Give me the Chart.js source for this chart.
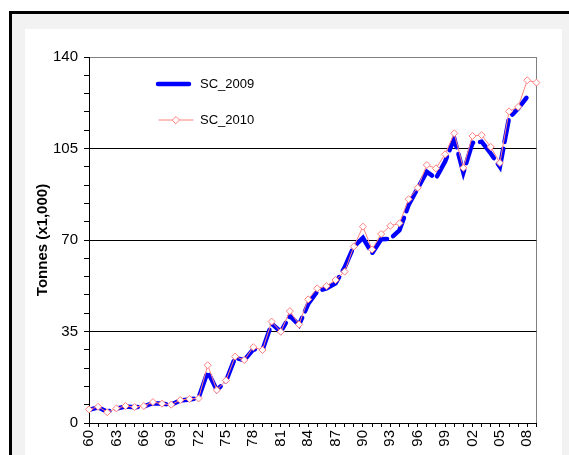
<!DOCTYPE html>
<html lang="en">
  <head>
    <meta charset="UTF-8" />
    <title>SC_2009 / SC_2010</title>
    <style>
      html,
      body {
        margin: 0;
        padding: 0;
        width: 569px;
        height: 455px;
        overflow: hidden;
        background: #fff;
        font-family: Arial, "Liberation Sans", sans-serif;
      }
      .frame {
        position: absolute;
        left: 9px;
        top: 11px;
        width: 600px;
        height: 500px;
        border-left: 3px solid #000;
        border-top: 3px solid #000;
        background: #f2f2f2;
      }
      .panel {
        position: absolute;
        left: 25px;
        top: 29px;
        width: 537px;
        height: 426px;
        background: #fff;
      }
    </style>
  </head>
  <body>
    <div class="frame"></div>
    <div class="panel"><canvas class="chart"></canvas></div>
    <script src="https://cdn.jsdelivr.net/npm/chart.js@4.4.1/dist/chart.umd.min.js"></script>
    <script>
      const years = [
        1960, 1961, 1962, 1963, 1964, 1965, 1966, 1967, 1968, 1969,
        1970, 1971, 1972, 1973, 1974, 1975, 1976, 1977, 1978, 1979,
        1980, 1981, 1982, 1983, 1984, 1985, 1986, 1987, 1988, 1989,
        1990, 1991, 1992, 1993, 1994, 1995, 1996, 1997, 1998, 1999,
        2000, 2001, 2002, 2003, 2004, 2005, 2006, 2007, 2008, 2009,
      ];

      // SC_2009 stops at 2008
      const sc2009 = [
        5.0, 6.0, 4.3, 5.5, 6.3, 6.0, 6.3, 7.6, 7.4, 7.0,
        8.6, 9.0, 9.6, 19.6, 12.6, 16.0, 25.0, 24.0, 28.2, 27.9,
        38.0, 34.9, 41.0, 37.5, 45.5, 50.4, 51.5, 53.4, 59.5, 67.5,
        70.8, 64.9, 70.3, 70.5, 73.7, 83.4, 89.8, 96.1, 93.6, 100.0,
        108.9, 95.8, 107.2, 107.6, 103.1, 98.0, 116.7, 120.3, 124.8, null,
      ];

      const sc2010 = [
        5.2, 6.2, 4.1, 5.6, 6.5, 6.1, 6.5, 8.0, 7.4, 7.0,
        8.8, 9.2, 9.4, 22.1, 12.6, 16.3, 25.4, 24.1, 29.0, 27.9,
        38.8, 34.9, 42.8, 37.7, 47.3, 51.5, 52.4, 54.7, 57.9, 67.5,
        75.1, 66.4, 72.3, 75.4, 76.4, 85.6, 90.0, 98.7, 97.4, 102.8,
        110.8, 97.6, 109.8, 110.1, 105.6, 99.5, 119.2, 120.9, 131.1, 130.2,
      ];

      // major (labelled) and minor y ticks
      const yLabels = [0, 35, 70, 105, 140];
      const yMinor = [
        7, 14, 21, 28, 42, 49, 56, 63, 77, 84, 91, 98, 112, 119, 126, 133,
      ];

      const BLUE = "#0000ff";
      const PINK = "#ff8080";
      const FONT = 'Arial, "Liberation Sans", sans-serif';

      Chart.defaults.font.family = FONT;
      Chart.defaults.color = "#000";

      // Legend sits inside the plot, top left
      const insideLegend = {
        id: "insideLegend",
        afterDraw(chart) {
          const { ctx, chartArea } = chart;
          const x0 = chartArea.left + 69;
          const rows = [
            { label: "SC_2009", y: chartArea.top + 27, ds: 0 },
            { label: "SC_2010", y: chartArea.top + 63, ds: 1 },
          ];
          ctx.save();
          for (const row of rows) {
            if (row.ds === 0) {
              ctx.strokeStyle = BLUE;
              ctx.lineWidth = 4.5;
              ctx.lineCap = "round";
              ctx.beginPath();
              ctx.moveTo(x0, row.y);
              ctx.lineTo(x0 + 31, row.y);
              ctx.stroke();
            } else {
              ctx.strokeStyle = PINK;
              ctx.lineWidth = 1;
              ctx.beginPath();
              ctx.moveTo(x0 + 1, row.y);
              ctx.lineTo(x0 + 35, row.y);
              ctx.stroke();
              ctx.fillStyle = "#fff";
              ctx.beginPath();
              const cx = x0 + 18;
              ctx.moveTo(cx - 3.5, row.y);
              ctx.lineTo(cx, row.y - 3.5);
              ctx.lineTo(cx + 3.5, row.y);
              ctx.lineTo(cx, row.y + 3.5);
              ctx.closePath();
              ctx.fill();
              ctx.stroke();
            }
            ctx.fillStyle = "#000";
            ctx.font = "13px " + FONT;
            ctx.textBaseline = "middle";
            ctx.fillText(row.label, x0 + 42, row.y);
          }
          ctx.restore();
        },
      };

      const ctx = document.querySelector(".chart").getContext("2d");
      new Chart(ctx, {
        type: "line",
        data: {
          labels: years,
          datasets: [
            {
              label: "SC_2009",
              data: sc2009,
              borderColor: BLUE,
              borderWidth: 4.5,
              borderDash: [22, 7],
              borderCapStyle: "round",
              pointRadius: 0,
              tension: 0,
              order: 1,
            },
            {
              label: "SC_2010",
              data: sc2010,
              borderColor: PINK,
              borderWidth: 1,
              pointStyle: "rectRot",
              pointRadius: 3.5,
              pointBorderWidth: 1,
              pointBorderColor: PINK,
              pointBackgroundColor: "#fff",
              tension: 0,
              order: 0,
            },
          ],
        },
        options: {
          responsive: true,
          maintainAspectRatio: false,
          animation: false,
          layout: {
            padding: { top: 28, right: 25.6, left: 0, bottom: 0 },
          },
          plugins: {
            legend: { display: false },
            tooltip: { enabled: false },
          },
          scales: {
            x: {
              type: "category",
              offset: false,
              border: { color: "#000", width: 1 },
              grid: {
                offset: false,
                color: (c) => (c.index === years.length - 1 ? "#808080" : "transparent"),
                tickColor: "#000",
                tickLength: 4,
              },
              ticks: {
                autoSkip: false,
                minRotation: 90,
                maxRotation: 90,
                padding: 3,
                font: { size: 15 },
                callback: (v, i) =>
                  i % 3 === 0 ? String(years[i]).slice(2) : "",
              },
              afterFit: (scale) => {
                scale.height = 32;
              },
            },
            y: {
              min: 0,
              max: 140,
              border: { color: "#000", width: 1 },
              afterBuildTicks: (scale) => {
                scale.ticks = [...yLabels, ...yMinor]
                  .sort((a, b) => a - b)
                  .map((value) => ({ value }));
              },
              grid: {
                color: (c) => {
                  const v = c.tick.value;
                  if (v === 140) return "#808080";
                  return yLabels.includes(v) ? "#000" : "transparent";
                },
                tickColor: "#000",
                tickLength: 5,
              },
              ticks: {
                autoSkip: false,
                padding: 6,
                font: { size: 15 },
                callback: (v) => (yLabels.includes(v) ? v : ""),
              },
              title: {
                display: true,
                text: "Tonnes (x1,000)",
                font: { size: 15, weight: "bold" },
                padding: { top: 9, bottom: 0 },
              },
              afterFit: (scale) => {
                scale.width = 64;
              },
            },
          },
        },
        plugins: [insideLegend],
      });
    </script>
  </body>
</html>
